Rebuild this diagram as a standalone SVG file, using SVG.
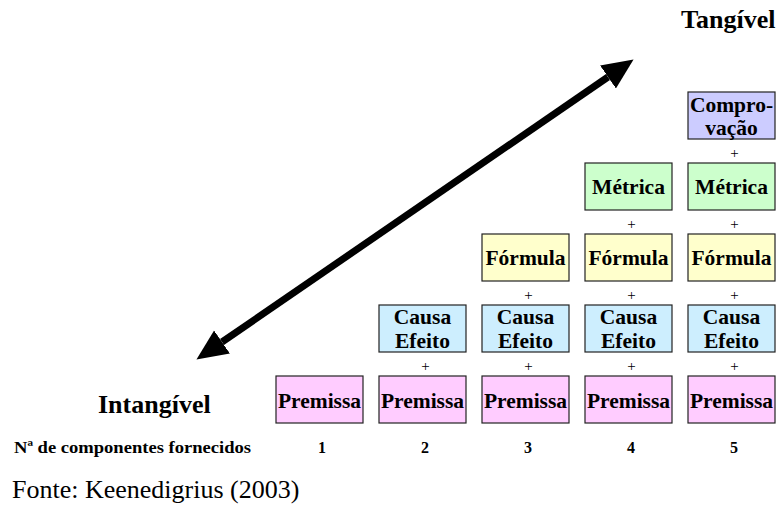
<svg xmlns="http://www.w3.org/2000/svg" width="781" height="506" viewBox="0 0 781 506">
  <style>
    .box { stroke: #222; stroke-width: 1.2; }
    .premissa { fill: #ffccff; }
    .causa { fill: #cdeefe; }
    .formula { fill: #ffffcc; }
    .metrica { fill: #ccffcc; }
    .comprov { fill: #ccccff; }
    .lbl { font-family: "Liberation Serif", "Times New Roman", serif; font-weight: bold; font-size: 21.5px; fill: #000; text-anchor: middle; }
    .plus { font-family: "Liberation Serif", "Times New Roman", serif; font-size: 15px; fill: #000; text-anchor: middle; }
    .pole { font-family: "Liberation Serif", "Times New Roman", serif; font-weight: bold; font-size: 26px; fill: #000; }
    .axis { font-family: "Liberation Serif", "Times New Roman", serif; font-weight: bold; font-size: 17px; fill: #000; }
    .num { font-family: "Liberation Serif", "Times New Roman", serif; font-weight: bold; font-size: 16px; fill: #000; text-anchor: middle; }
    .src { font-family: "Liberation Serif", "Times New Roman", serif; font-size: 26px; fill: #000; }
  </style>
  <defs>
    <marker id="head" markerUnits="userSpaceOnUse" markerWidth="32" markerHeight="30" refX="0" refY="14" orient="auto-start-reverse" viewBox="0 0 32 28">
      <path d="M0,0 L31,14 L0,28 z" fill="#000"/>
    </marker>
  </defs>

  <rect width="781" height="506" fill="#fff"/>

  <!-- double-headed scale arrow -->
  <g id="connectors">
    <line x1="222" y1="342" x2="608" y2="77" stroke="#000" stroke-width="7" marker-start="url(#head)" marker-end="url(#head)"/>
  </g>

  <!-- pole labels -->
  <text class="pole" x="681" y="28">Tangível</text>
  <text class="pole" x="98" y="413">Intangível</text>

  <!-- column 1 -->
  <g id="c1-premissa"><rect class="box premissa" x="276" y="376" width="87" height="47"/><text class="lbl" x="319.5" y="408">Premissa</text></g>

  <!-- column 2 -->
  <g id="c2-causa"><rect class="box causa" x="379" y="305" width="87" height="47"/><text class="lbl" x="422.5" y="324">Causa</text><text class="lbl" x="422.5" y="348">Efeito</text></g>
  <text class="plus" x="425.5" y="371">+</text>
  <g id="c2-premissa"><rect class="box premissa" x="379" y="376" width="87" height="47"/><text class="lbl" x="422.5" y="408">Premissa</text></g>

  <!-- column 3 -->
  <g id="c3-formula"><rect class="box formula" x="482" y="234" width="87" height="47"/><text class="lbl" x="525.5" y="265">Fórmula</text></g>
  <text class="plus" x="528.5" y="300">+</text>
  <g id="c3-causa"><rect class="box causa" x="482" y="305" width="87" height="47"/><text class="lbl" x="525.5" y="324">Causa</text><text class="lbl" x="525.5" y="348">Efeito</text></g>
  <text class="plus" x="528.5" y="371">+</text>
  <g id="c3-premissa"><rect class="box premissa" x="482" y="376" width="87" height="47"/><text class="lbl" x="525.5" y="408">Premissa</text></g>

  <!-- column 4 -->
  <g id="c4-metrica"><rect class="box metrica" x="585" y="163" width="87" height="47"/><text class="lbl" x="628.5" y="194">Métrica</text></g>
  <text class="plus" x="631.5" y="229">+</text>
  <g id="c4-formula"><rect class="box formula" x="585" y="234" width="87" height="47"/><text class="lbl" x="628.5" y="265">Fórmula</text></g>
  <text class="plus" x="631.5" y="300">+</text>
  <g id="c4-causa"><rect class="box causa" x="585" y="305" width="87" height="47"/><text class="lbl" x="628.5" y="324">Causa</text><text class="lbl" x="628.5" y="348">Efeito</text></g>
  <text class="plus" x="631.5" y="371">+</text>
  <g id="c4-premissa"><rect class="box premissa" x="585" y="376" width="87" height="47"/><text class="lbl" x="628.5" y="408">Premissa</text></g>

  <!-- column 5 -->
  <g id="c5-comprovacao"><rect class="box comprov" x="688" y="92" width="87" height="47"/><text class="lbl" x="731.5" y="112">Compro-</text><text class="lbl" x="731.5" y="135">vação</text></g>
  <text class="plus" x="734.5" y="158">+</text>
  <g id="c5-metrica"><rect class="box metrica" x="688" y="163" width="87" height="47"/><text class="lbl" x="731.5" y="194">Métrica</text></g>
  <text class="plus" x="734.5" y="229">+</text>
  <g id="c5-formula"><rect class="box formula" x="688" y="234" width="87" height="47"/><text class="lbl" x="731.5" y="265">Fórmula</text></g>
  <text class="plus" x="734.5" y="300">+</text>
  <g id="c5-causa"><rect class="box causa" x="688" y="305" width="87" height="47"/><text class="lbl" x="731.5" y="324">Causa</text><text class="lbl" x="731.5" y="348">Efeito</text></g>
  <text class="plus" x="734.5" y="371">+</text>
  <g id="c5-premissa"><rect class="box premissa" x="688" y="376" width="87" height="47"/><text class="lbl" x="731.5" y="408">Premissa</text></g>

  <!-- component count row -->
  <text class="axis" x="14" y="453" textLength="237" lengthAdjust="spacingAndGlyphs">Nª de componentes fornecidos</text>
  <text class="num" x="322" y="453">1</text>
  <text class="num" x="425" y="453">2</text>
  <text class="num" x="528" y="453">3</text>
  <text class="num" x="631" y="453">4</text>
  <text class="num" x="734" y="453">5</text>

  <!-- source line -->
  <text class="src" x="12" y="498">Fonte: Keenedigrius (2003)</text>
</svg>
